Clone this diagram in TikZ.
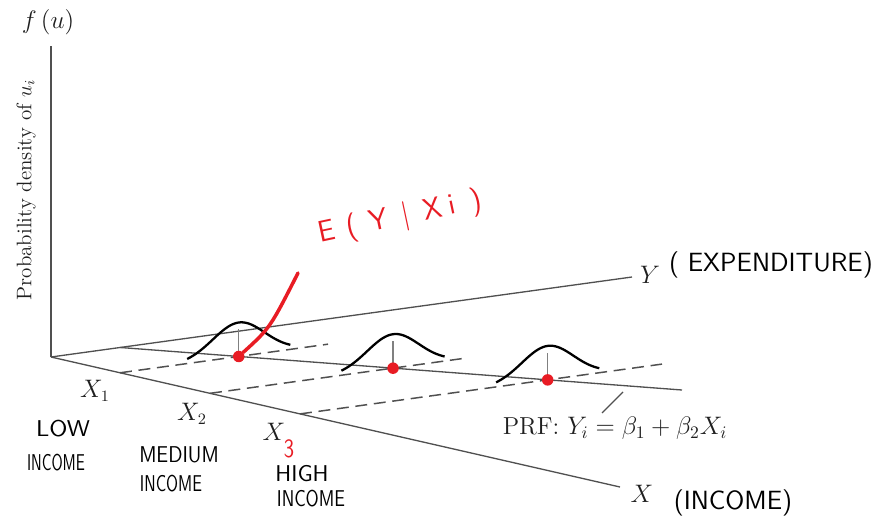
\documentclass[tikz,border=0pt]{standalone}
\usepackage{tikz}
\usetikzlibrary{calc}
\definecolor{axisgray}{RGB}{80,80,80}
\definecolor{markred}{RGB}{232,28,36}

\begin{document}
\begin{tikzpicture}[
    x=0.02cm, y=-0.02cm,
    axis/.style={
        draw=axisgray,
        line width=0.75pt
    },
    guide/.style={
        draw=axisgray,
        line width=0.85pt,
        dash pattern=on 6.8pt off 3.8pt
    },
    bell/.style={
        draw=black,
        line width=1.3pt,
        smooth
    },
    stem/.style={
        draw=gray,
        line width=0.8pt
    },
    dot/.style={
        circle,
        fill=markred,
        inner sep=0pt,
        minimum size=0.23cm
    },
    lbl/.style={
        font=\fontsize{13.5}{15}\selectfont,
        text=black!88,
        inner sep=1pt
    },
    hand/.style={
        font=\sffamily\fontsize{13}{15}\selectfont,
        inner sep=1pt,
        xscale=0.8
    }
]
\useasboundingbox (0,0) rectangle (874,524);

% axes
\coordinate (O) at (51,357);
\coordinate (top) at (51,46);
\coordinate (yend) at (632,277);
\coordinate (xend) at (620,487);

\draw[axis] (O) -- (top);
\draw[axis] (O) -- (yend);
\draw[axis] (O) -- (xend);

\node[lbl, font=\fontsize{14.5}{16}\selectfont] (flab) at (48,22) {$f\,(u)$};
\node[lbl, font=\fontsize{12}{14}\selectfont, rotate=90] (plab) at (26,190) {Probability density of $u_i$};
\node[lbl] (ylab) at (650,275) {$Y$};
\node[lbl] (xlab) at (642,494) {$X$};

% income levels on the X axis
\coordinate (x1) at ($(O)!0.1213!(xend)$);
\coordinate (x2) at ($(O)!0.2794!(xend)$);
\coordinate (x3) at ($(O)!0.4376!(xend)$);
\coordinate (x1e) at ($(x1)+(208,-28.6)$);
\coordinate (x2e) at ($(x2)+(252,-34.7)$);
\coordinate (x3e) at ($(x3)+(362,-49.8)$);

\draw[guide] (x1) -- (x1e);
\draw[guide] (x2) -- (x2e);
\draw[guide] (x3) -- (x3e);

\node[lbl] (xone) at (95,391) {$X_1$};
\node[lbl] (xtwo) at (192,414) {$X_2$};
\node[lbl] (xthree) at (274,432) {$X$};

% regression line
\coordinate (b1) at ($(O)!0.119!(yend)$);
\coordinate (prfend) at (682,390);
\draw[axis] (b1) -- (prfend);

\coordinate (m1) at (intersection of b1--prfend and x1--x1e);
\coordinate (m2) at (intersection of b1--prfend and x2--x2e);
\coordinate (m3) at (intersection of b1--prfend and x3--x3e);

% densities
\foreach \m in {m1,m2,m3} {
    \begin{scope}[shift={(\m)}]
        \draw[bell] plot[domain=-2:2, samples=41] ({25.8*\x},{-3.55*\x-34*exp(-0.5*\x*\x)});
    \end{scope}
    \draw[stem] (\m) -- ++(0,-27);
}

\node[dot] (d1) at (m1) {};
\node[dot] (d2) at (m2) {};
\node[dot] (d3) at (m3) {};

\node[lbl, font=\fontsize{14}{16}\selectfont] (prf) at (615,428) {PRF: $Y_i = \beta_1 + \beta_2 X_i$};
\coordinate (lead) at (623,392);
\coordinate (leadend) at (602,413);
\draw[axis] (lead) -- (leadend);

% notes
\coordinate (etip) at (298,273);
\draw[markred, line width=2pt, line cap=round] (d1) .. controls (270,328) .. (etip);
\node[hand, xscale=1.25, text=markred, font=\sffamily\fontsize{17}{19}\selectfont, rotate=12] (ecall) at (400,218)
    {E\kern7pt(\kern7pt Y\kern8pt|\kern8pt X\kern4pt i\kern9pt)};

\node[hand, text=markred, font=\sffamily\fontsize{15}{17}\selectfont] (three) at (289,449) {3};
\node[hand, xscale=1.375] (low) at (63,429) {LOW};
\node[hand, xscale=0.85] (lowinc) at (56,463) {INCOME};
\node[hand, xscale=1.11] (med) at (179,455) {MEDIUM};
\node[hand, xscale=0.91] (medinc) at (171,484) {INCOME};
\node[hand, xscale=1.27] (high) at (302,474) {HIGH};
\node[hand] (highinc) at (311,499) {INCOME};
\node[hand, xscale=1.25, font=\sffamily\fontsize{15}{17}\selectfont] (yname) at (771,265) {( EXPENDITURE)};
\node[hand, xscale=1.25, font=\sffamily\fontsize{15}{17}\selectfont] (xname) at (733,503) {(INCOME)};

\end{tikzpicture}
\end{document}
